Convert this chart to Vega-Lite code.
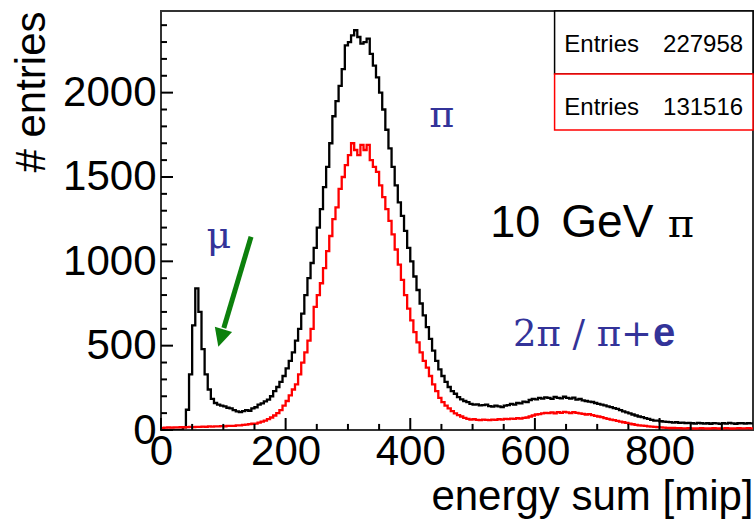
{
  "$schema": "https://vega.github.io/schema/vega-lite/v6.json",
  "width": 592,
  "height": 419,
  "autosize": {"type": "none"},
  "padding": {"left": 161, "top": 11, "right": 2, "bottom": 93},
  "background": "white",
  "config": {
    "view": {"stroke": "#333", "strokeWidth": 2},
    "font": "Liberation Sans"
  },
  "datasets": {
    "pion": [
      {"energy": 0, "entries": 0}, {"energy": 5, "entries": 0}, {"energy": 10, "entries": 0}, {"energy": 15, "entries": 0},
      {"energy": 20, "entries": 0}, {"energy": 25, "entries": 0}, {"energy": 30, "entries": 0}, {"energy": 35, "entries": 15},
      {"energy": 40, "entries": 120}, {"energy": 45, "entries": 330}, {"energy": 50, "entries": 620}, {"energy": 55, "entries": 840},
      {"energy": 60, "entries": 700}, {"energy": 65, "entries": 480}, {"energy": 70, "entries": 330}, {"energy": 75, "entries": 240},
      {"energy": 80, "entries": 185}, {"energy": 85, "entries": 160}, {"energy": 90, "entries": 150}, {"energy": 95, "entries": 145},
      {"energy": 100, "entries": 140}, {"energy": 105, "entries": 132}, {"energy": 110, "entries": 128}, {"energy": 115, "entries": 118},
      {"energy": 120, "entries": 110}, {"energy": 125, "entries": 106}, {"energy": 130, "entries": 112}, {"energy": 135, "entries": 118},
      {"energy": 140, "entries": 114}, {"energy": 145, "entries": 128}, {"energy": 150, "entries": 135}, {"energy": 155, "entries": 150},
      {"energy": 160, "entries": 158}, {"energy": 165, "entries": 170}, {"energy": 170, "entries": 180}, {"energy": 175, "entries": 200},
      {"energy": 180, "entries": 230}, {"energy": 185, "entries": 255}, {"energy": 190, "entries": 285}, {"energy": 195, "entries": 320},
      {"energy": 200, "entries": 365}, {"energy": 205, "entries": 410}, {"energy": 210, "entries": 460}, {"energy": 215, "entries": 530},
      {"energy": 220, "entries": 600}, {"energy": 225, "entries": 690}, {"energy": 230, "entries": 800}, {"energy": 235, "entries": 900},
      {"energy": 240, "entries": 990}, {"energy": 245, "entries": 1080}, {"energy": 250, "entries": 1200}, {"energy": 255, "entries": 1310},
      {"energy": 260, "entries": 1440}, {"energy": 265, "entries": 1560}, {"energy": 270, "entries": 1700}, {"energy": 275, "entries": 1860},
      {"energy": 280, "entries": 1950}, {"energy": 285, "entries": 2040}, {"energy": 290, "entries": 2140}, {"energy": 295, "entries": 2280},
      {"energy": 300, "entries": 2300}, {"energy": 305, "entries": 2340}, {"energy": 310, "entries": 2370}, {"energy": 315, "entries": 2330},
      {"energy": 320, "entries": 2290}, {"energy": 325, "entries": 2300}, {"energy": 330, "entries": 2320}, {"energy": 335, "entries": 2230},
      {"energy": 340, "entries": 2160}, {"energy": 345, "entries": 2090}, {"energy": 350, "entries": 2000}, {"energy": 355, "entries": 1900},
      {"energy": 360, "entries": 1780}, {"energy": 365, "entries": 1670}, {"energy": 370, "entries": 1560}, {"energy": 375, "entries": 1450},
      {"energy": 380, "entries": 1350}, {"energy": 385, "entries": 1270}, {"energy": 390, "entries": 1180}, {"energy": 395, "entries": 1080},
      {"energy": 400, "entries": 1000}, {"energy": 405, "entries": 910}, {"energy": 410, "entries": 830}, {"energy": 415, "entries": 750},
      {"energy": 420, "entries": 680}, {"energy": 425, "entries": 610}, {"energy": 430, "entries": 540}, {"energy": 435, "entries": 470},
      {"energy": 440, "entries": 410}, {"energy": 445, "entries": 360}, {"energy": 450, "entries": 320}, {"energy": 455, "entries": 285},
      {"energy": 460, "entries": 255}, {"energy": 465, "entries": 230}, {"energy": 470, "entries": 215}, {"energy": 475, "entries": 195},
      {"energy": 480, "entries": 182}, {"energy": 485, "entries": 172}, {"energy": 490, "entries": 165}, {"energy": 495, "entries": 155},
      {"energy": 500, "entries": 150}, {"energy": 505, "entries": 152}, {"energy": 510, "entries": 146}, {"energy": 515, "entries": 148},
      {"energy": 520, "entries": 150}, {"energy": 525, "entries": 142}, {"energy": 530, "entries": 138}, {"energy": 535, "entries": 145},
      {"energy": 540, "entries": 140}, {"energy": 545, "entries": 136}, {"energy": 550, "entries": 145}, {"energy": 555, "entries": 148},
      {"energy": 560, "entries": 155}, {"energy": 565, "entries": 150}, {"energy": 570, "entries": 160}, {"energy": 575, "entries": 158},
      {"energy": 580, "entries": 168}, {"energy": 585, "entries": 165}, {"energy": 590, "entries": 178}, {"energy": 595, "entries": 185},
      {"energy": 600, "entries": 182}, {"energy": 605, "entries": 190}, {"energy": 610, "entries": 186}, {"energy": 615, "entries": 194},
      {"energy": 620, "entries": 190}, {"energy": 625, "entries": 184}, {"energy": 630, "entries": 196}, {"energy": 635, "entries": 190},
      {"energy": 640, "entries": 188}, {"energy": 645, "entries": 197}, {"energy": 650, "entries": 190}, {"energy": 655, "entries": 186},
      {"energy": 660, "entries": 192}, {"energy": 665, "entries": 180}, {"energy": 670, "entries": 185}, {"energy": 675, "entries": 176},
      {"energy": 680, "entries": 172}, {"energy": 685, "entries": 168}, {"energy": 690, "entries": 166}, {"energy": 695, "entries": 160},
      {"energy": 700, "entries": 155}, {"energy": 705, "entries": 150}, {"energy": 710, "entries": 146}, {"energy": 715, "entries": 140},
      {"energy": 720, "entries": 136}, {"energy": 725, "entries": 130}, {"energy": 730, "entries": 125}, {"energy": 735, "entries": 118},
      {"energy": 740, "entries": 110}, {"energy": 745, "entries": 104}, {"energy": 750, "entries": 98}, {"energy": 755, "entries": 92},
      {"energy": 760, "entries": 86}, {"energy": 765, "entries": 80}, {"energy": 770, "entries": 76}, {"energy": 775, "entries": 70},
      {"energy": 780, "entries": 66}, {"energy": 785, "entries": 60}, {"energy": 790, "entries": 56}, {"energy": 795, "entries": 55},
      {"energy": 800, "entries": 52}, {"energy": 805, "entries": 50}, {"energy": 810, "entries": 48}, {"energy": 815, "entries": 47},
      {"energy": 820, "entries": 44}, {"energy": 825, "entries": 46}, {"energy": 830, "entries": 42}, {"energy": 835, "entries": 44},
      {"energy": 840, "entries": 41}, {"energy": 845, "entries": 42}, {"energy": 850, "entries": 40}, {"energy": 855, "entries": 38},
      {"energy": 860, "entries": 42}, {"energy": 865, "entries": 40}, {"energy": 870, "entries": 38}, {"energy": 875, "entries": 40},
      {"energy": 880, "entries": 37}, {"energy": 885, "entries": 41}, {"energy": 890, "entries": 39}, {"energy": 895, "entries": 36},
      {"energy": 900, "entries": 40}, {"energy": 905, "entries": 38}, {"energy": 910, "entries": 42}, {"energy": 915, "entries": 39},
      {"energy": 920, "entries": 37}, {"energy": 925, "entries": 40}, {"energy": 930, "entries": 41}, {"energy": 935, "entries": 38},
      {"energy": 940, "entries": 40}, {"energy": 945, "entries": 39}, {"energy": 950, "entries": 39}
    ],
    "pionPair": [
      {"energy": 0, "entries": 12}, {"energy": 5, "entries": 14}, {"energy": 10, "entries": 15}, {"energy": 15, "entries": 14},
      {"energy": 20, "entries": 16}, {"energy": 25, "entries": 15}, {"energy": 30, "entries": 17}, {"energy": 35, "entries": 16},
      {"energy": 40, "entries": 17}, {"energy": 45, "entries": 18}, {"energy": 50, "entries": 17}, {"energy": 55, "entries": 19},
      {"energy": 60, "entries": 18}, {"energy": 65, "entries": 20}, {"energy": 70, "entries": 19}, {"energy": 75, "entries": 21},
      {"energy": 80, "entries": 20}, {"energy": 85, "entries": 22}, {"energy": 90, "entries": 21}, {"energy": 95, "entries": 23},
      {"energy": 100, "entries": 22}, {"energy": 105, "entries": 24}, {"energy": 110, "entries": 25}, {"energy": 115, "entries": 24},
      {"energy": 120, "entries": 27}, {"energy": 125, "entries": 28}, {"energy": 130, "entries": 30}, {"energy": 135, "entries": 32},
      {"energy": 140, "entries": 35}, {"energy": 145, "entries": 37}, {"energy": 150, "entries": 38}, {"energy": 155, "entries": 44},
      {"energy": 160, "entries": 50}, {"energy": 165, "entries": 56}, {"energy": 170, "entries": 64}, {"energy": 175, "entries": 74},
      {"energy": 180, "entries": 86}, {"energy": 185, "entries": 100}, {"energy": 190, "entries": 118}, {"energy": 195, "entries": 145},
      {"energy": 200, "entries": 172}, {"energy": 205, "entries": 205}, {"energy": 210, "entries": 240}, {"energy": 215, "entries": 270},
      {"energy": 220, "entries": 330}, {"energy": 225, "entries": 400}, {"energy": 230, "entries": 460}, {"energy": 235, "entries": 530},
      {"energy": 240, "entries": 600}, {"energy": 245, "entries": 730}, {"energy": 250, "entries": 800}, {"energy": 255, "entries": 870},
      {"energy": 260, "entries": 960}, {"energy": 265, "entries": 1060}, {"energy": 270, "entries": 1150}, {"energy": 275, "entries": 1250},
      {"energy": 280, "entries": 1320}, {"energy": 285, "entries": 1430}, {"energy": 290, "entries": 1500}, {"energy": 295, "entries": 1570},
      {"energy": 300, "entries": 1630}, {"energy": 305, "entries": 1700}, {"energy": 310, "entries": 1660}, {"energy": 315, "entries": 1630},
      {"energy": 320, "entries": 1690}, {"energy": 325, "entries": 1660}, {"energy": 330, "entries": 1690}, {"energy": 335, "entries": 1600},
      {"energy": 340, "entries": 1560}, {"energy": 345, "entries": 1530}, {"energy": 350, "entries": 1450}, {"energy": 355, "entries": 1380},
      {"energy": 360, "entries": 1310}, {"energy": 365, "entries": 1240}, {"energy": 370, "entries": 1160}, {"energy": 375, "entries": 1070},
      {"energy": 380, "entries": 980}, {"energy": 385, "entries": 890}, {"energy": 390, "entries": 800}, {"energy": 395, "entries": 720},
      {"energy": 400, "entries": 650}, {"energy": 405, "entries": 580}, {"energy": 410, "entries": 520}, {"energy": 415, "entries": 460},
      {"energy": 420, "entries": 410}, {"energy": 425, "entries": 370}, {"energy": 430, "entries": 320}, {"energy": 435, "entries": 270},
      {"energy": 440, "entries": 230}, {"energy": 445, "entries": 190}, {"energy": 450, "entries": 165}, {"energy": 455, "entries": 145},
      {"energy": 460, "entries": 128}, {"energy": 465, "entries": 112}, {"energy": 470, "entries": 98}, {"energy": 475, "entries": 88},
      {"energy": 480, "entries": 80}, {"energy": 485, "entries": 72}, {"energy": 490, "entries": 66}, {"energy": 495, "entries": 62},
      {"energy": 500, "entries": 64}, {"energy": 505, "entries": 60}, {"energy": 510, "entries": 58}, {"energy": 515, "entries": 62},
      {"energy": 520, "entries": 60}, {"energy": 525, "entries": 58}, {"energy": 530, "entries": 62}, {"energy": 535, "entries": 60},
      {"energy": 540, "entries": 64}, {"energy": 545, "entries": 62}, {"energy": 550, "entries": 66}, {"energy": 555, "entries": 64},
      {"energy": 560, "entries": 68}, {"energy": 565, "entries": 66}, {"energy": 570, "entries": 70}, {"energy": 575, "entries": 68},
      {"energy": 580, "entries": 72}, {"energy": 585, "entries": 74}, {"energy": 590, "entries": 80}, {"energy": 595, "entries": 86},
      {"energy": 600, "entries": 92}, {"energy": 605, "entries": 94}, {"energy": 610, "entries": 98}, {"energy": 615, "entries": 102},
      {"energy": 620, "entries": 100}, {"energy": 625, "entries": 104}, {"energy": 630, "entries": 98}, {"energy": 635, "entries": 106},
      {"energy": 640, "entries": 102}, {"energy": 645, "entries": 108}, {"energy": 650, "entries": 104}, {"energy": 655, "entries": 100},
      {"energy": 660, "entries": 106}, {"energy": 665, "entries": 102}, {"energy": 670, "entries": 98}, {"energy": 675, "entries": 96},
      {"energy": 680, "entries": 92}, {"energy": 685, "entries": 94}, {"energy": 690, "entries": 88}, {"energy": 695, "entries": 84},
      {"energy": 700, "entries": 80}, {"energy": 705, "entries": 76}, {"energy": 710, "entries": 70}, {"energy": 715, "entries": 66},
      {"energy": 720, "entries": 62}, {"energy": 725, "entries": 58}, {"energy": 730, "entries": 54}, {"energy": 735, "entries": 50},
      {"energy": 740, "entries": 46}, {"energy": 745, "entries": 42}, {"energy": 750, "entries": 38}, {"energy": 755, "entries": 34},
      {"energy": 760, "entries": 30}, {"energy": 765, "entries": 28}, {"energy": 770, "entries": 26}, {"energy": 775, "entries": 24},
      {"energy": 780, "entries": 22}, {"energy": 785, "entries": 20}, {"energy": 790, "entries": 18}, {"energy": 795, "entries": 17},
      {"energy": 800, "entries": 15}, {"energy": 805, "entries": 14}, {"energy": 810, "entries": 13}, {"energy": 815, "entries": 12},
      {"energy": 820, "entries": 12}, {"energy": 825, "entries": 11}, {"energy": 830, "entries": 11}, {"energy": 835, "entries": 10},
      {"energy": 840, "entries": 10}, {"energy": 845, "entries": 11}, {"energy": 850, "entries": 10}, {"energy": 855, "entries": 9},
      {"energy": 860, "entries": 10}, {"energy": 865, "entries": 11}, {"energy": 870, "entries": 10}, {"energy": 875, "entries": 9},
      {"energy": 880, "entries": 10}, {"energy": 885, "entries": 11}, {"energy": 890, "entries": 10}, {"energy": 895, "entries": 9},
      {"energy": 900, "entries": 10}, {"energy": 905, "entries": 11}, {"energy": 910, "entries": 10}, {"energy": 915, "entries": 9},
      {"energy": 920, "entries": 10}, {"energy": 925, "entries": 11}, {"energy": 930, "entries": 10}, {"energy": 935, "entries": 10},
      {"energy": 940, "entries": 11}, {"energy": 945, "entries": 10}, {"energy": 950, "entries": 10}
    ],
    "xTicks": [
      {"value": 0, "major": true}, {"value": 50, "major": false}, {"value": 100, "major": false}, {"value": 150, "major": false},
      {"value": 200, "major": true}, {"value": 250, "major": false}, {"value": 300, "major": false}, {"value": 350, "major": false},
      {"value": 400, "major": true}, {"value": 450, "major": false}, {"value": 500, "major": false}, {"value": 550, "major": false},
      {"value": 600, "major": true}, {"value": 650, "major": false}, {"value": 700, "major": false}, {"value": 750, "major": false},
      {"value": 800, "major": true}, {"value": 850, "major": false}, {"value": 900, "major": false}
    ],
    "yTicks": [
      {"value": 0, "major": true}, {"value": 100, "major": false}, {"value": 200, "major": false}, {"value": 300, "major": false},
      {"value": 400, "major": false}, {"value": 500, "major": true}, {"value": 600, "major": false}, {"value": 700, "major": false},
      {"value": 800, "major": false}, {"value": 900, "major": false}, {"value": 1000, "major": true}, {"value": 1100, "major": false},
      {"value": 1200, "major": false}, {"value": 1300, "major": false}, {"value": 1400, "major": false}, {"value": 1500, "major": true},
      {"value": 1600, "major": false}, {"value": 1700, "major": false}, {"value": 1800, "major": false}, {"value": 1900, "major": false},
      {"value": 2000, "major": true}, {"value": 2100, "major": false}, {"value": 2200, "major": false}, {"value": 2300, "major": false},
      {"value": 2400, "major": false}
    ]
  },
  "layer": [
    {
      "data": {"name": "pion"},
      "mark": {"type": "line", "interpolate": "step-after", "color": "#000000", "strokeWidth": 2.3, "clip": true},
      "encoding": {
        "x": {
          "field": "energy", "type": "quantitative",
          "scale": {"domain": [0, 950], "nice": false, "zero": false},
          "axis": {
            "orient": "bottom", "values": [0, 200, 400, 600, 800], "format": "d",
            "grid": false, "domain": false, "ticks": false,
            "labelFont": "Liberation Sans", "labelFontSize": 42, "labelColor": "#000",
            "labelPadding": 1, "labelFlush": false, "labelOverlap": false,
            "title": "energy sum [mip]", "titleFont": "Liberation Sans", "titleFontSize": 42,
            "titleFontWeight": "normal", "titleColor": "#000", "titleAnchor": "end", "titlePadding": 4
          }
        },
        "y": {
          "field": "entries", "type": "quantitative",
          "scale": {"domain": [0, 2484], "nice": false, "zero": true},
          "axis": {
            "orient": "left", "values": [0, 500, 1000, 1500, 2000], "format": "d",
            "grid": false, "domain": false, "ticks": false,
            "labelFont": "Liberation Sans", "labelFontSize": 42, "labelColor": "#000",
            "labelPadding": 5, "labelFlush": false, "labelOverlap": false,
            "title": "# entries", "titleFont": "Liberation Sans", "titleFontSize": 42,
            "titleFontWeight": "normal", "titleColor": "#000", "titleAnchor": "end", "titlePadding": 9
          }
        }
      }
    },
    {
      "data": {"name": "pionPair"},
      "mark": {"type": "line", "interpolate": "step-after", "color": "#ff0000", "strokeWidth": 2.3, "clip": true},
      "encoding": {
        "x": {"field": "energy", "type": "quantitative"},
        "y": {"field": "entries", "type": "quantitative"}
      }
    },
    {
      "data": {"name": "xTicks"},
      "transform": [{"filter": "datum.major"}],
      "mark": {"type": "rule", "color": "#000000", "strokeWidth": 2},
      "encoding": {
        "x": {"field": "value", "type": "quantitative"},
        "y": {"datum": 0, "type": "quantitative"},
        "y2": {"datum": 71}
      }
    },
    {
      "data": {"name": "xTicks"},
      "transform": [{"filter": "!datum.major"}],
      "mark": {"type": "rule", "color": "#000000", "strokeWidth": 2},
      "encoding": {
        "x": {"field": "value", "type": "quantitative"},
        "y": {"datum": 0, "type": "quantitative"},
        "y2": {"datum": 36}
      }
    },
    {
      "data": {"name": "yTicks"},
      "transform": [{"filter": "datum.major"}],
      "mark": {"type": "rule", "color": "#000000", "strokeWidth": 2},
      "encoding": {
        "y": {"field": "value", "type": "quantitative"},
        "x": {"datum": 0, "type": "quantitative"},
        "x2": {"datum": 19.3}
      }
    },
    {
      "data": {"name": "yTicks"},
      "transform": [{"filter": "!datum.major"}],
      "mark": {"type": "rule", "color": "#000000", "strokeWidth": 2},
      "encoding": {
        "y": {"field": "value", "type": "quantitative"},
        "x": {"datum": 0, "type": "quantitative"},
        "x2": {"datum": 9.6}
      }
    },
    {
      "data": {"values": [{}]},
      "mark": {"type": "rule", "color": "#0c800c", "strokeWidth": 5},
      "encoding": {
        "x": {"datum": 144.5, "type": "quantitative"},
        "y": {"datum": 1146, "type": "quantitative"},
        "x2": {"datum": 100.8},
        "y2": {"datum": 605}
      }
    },
    {
      "data": {"values": [{}]},
      "mark": {"type": "point", "shape": "M0,1L-1,-1L1,-1Z", "filled": true, "color": "#0c800c", "opacity": 1, "size": 324, "angle": 16.6},
      "encoding": {
        "x": {"datum": 96.1, "type": "quantitative"},
        "y": {"datum": 545, "type": "quantitative"}
      }
    },
    {
      "data": {"values": [{}]},
      "mark": {"type": "text", "text": "μ", "font": "DejaVu Serif", "fontSize": 38, "color": "#333399", "align": "center", "baseline": "alphabetic"},
      "encoding": {
        "x": {"datum": 92.9, "type": "quantitative"},
        "y": {"datum": 1077, "type": "quantitative"}
      }
    },
    {
      "data": {"values": [{}]},
      "mark": {"type": "text", "text": "π", "font": "DejaVu Serif", "fontSize": 38, "color": "#333399", "align": "center", "baseline": "alphabetic"},
      "encoding": {
        "x": {"datum": 450.5, "type": "quantitative"},
        "y": {"datum": 1798, "type": "quantitative"}
      }
    },
    {
      "data": {"values": [{}]},
      "mark": {"type": "text", "text": "10", "font": "Liberation Sans", "fontSize": 45, "color": "#000000", "align": "left", "baseline": "alphabetic"},
      "encoding": {
        "x": {"datum": 528.3, "type": "quantitative"},
        "y": {"datum": 1146, "type": "quantitative"}
      }
    },
    {
      "data": {"values": [{}]},
      "mark": {"type": "text", "text": "GeV", "font": "Liberation Sans", "fontSize": 46, "color": "#000000", "align": "left", "baseline": "alphabetic"},
      "encoding": {
        "x": {"datum": 642.4, "type": "quantitative"},
        "y": {"datum": 1146, "type": "quantitative"}
      }
    },
    {
      "data": {"values": [{}]},
      "mark": {"type": "text", "text": "π", "font": "DejaVu Serif", "fontSize": 40, "color": "#000000", "align": "center", "baseline": "alphabetic"},
      "encoding": {
        "x": {"datum": 834.3, "type": "quantitative"},
        "y": {"datum": 1146, "type": "quantitative"}
      }
    },
    {
      "data": {"values": [{}]},
      "mark": {"type": "text", "text": "2π / π+", "font": "DejaVu Serif", "fontSize": 37, "color": "#333399", "align": "right", "baseline": "alphabetic"},
      "encoding": {
        "x": {"datum": 788, "type": "quantitative"},
        "y": {"datum": 498, "type": "quantitative"}
      }
    },
    {
      "data": {"values": [{}]},
      "mark": {"type": "text", "text": "e", "font": "Liberation Sans", "fontSize": 40, "fontWeight": "bold", "color": "#333399", "align": "left", "baseline": "alphabetic"},
      "encoding": {
        "x": {"datum": 789.6, "type": "quantitative"},
        "y": {"datum": 498, "type": "quantitative"}
      }
    },
    {
      "data": {"values": [{}]},
      "mark": {"type": "rect", "fill": "white", "stroke": "#000000", "strokeWidth": 1.5},
      "encoding": {
        "x": {"datum": 631.6, "type": "quantitative"},
        "x2": {"datum": 950},
        "y": {"datum": 2484, "type": "quantitative"},
        "y2": {"datum": 2111}
      }
    },
    {
      "data": {"values": [{}]},
      "mark": {"type": "rect", "fill": "white", "stroke": "#ff0000", "strokeWidth": 1.5},
      "encoding": {
        "x": {"datum": 631.6, "type": "quantitative"},
        "x2": {"datum": 950},
        "y": {"datum": 2111, "type": "quantitative"},
        "y2": {"datum": 1779}
      }
    },
    {
      "data": {"values": [{}]},
      "mark": {"type": "text", "text": "Entries", "font": "Liberation Sans", "fontSize": 24, "color": "#000000", "align": "left", "baseline": "alphabetic"},
      "encoding": {
        "x": {"datum": 647.2, "type": "quantitative"},
        "y": {"datum": 2243, "type": "quantitative"}
      }
    },
    {
      "data": {"values": [{}]},
      "mark": {"type": "text", "text": "227958", "font": "Liberation Sans", "fontSize": 24, "color": "#000000", "align": "right", "baseline": "alphabetic"},
      "encoding": {
        "x": {"datum": 934.2, "type": "quantitative"},
        "y": {"datum": 2243, "type": "quantitative"}
      }
    },
    {
      "data": {"values": [{}]},
      "mark": {"type": "text", "text": "Entries", "font": "Liberation Sans", "fontSize": 24, "color": "#000000", "align": "left", "baseline": "alphabetic"},
      "encoding": {
        "x": {"datum": 647.2, "type": "quantitative"},
        "y": {"datum": 1868, "type": "quantitative"}
      }
    },
    {
      "data": {"values": [{}]},
      "mark": {"type": "text", "text": "131516", "font": "Liberation Sans", "fontSize": 24, "color": "#000000", "align": "right", "baseline": "alphabetic"},
      "encoding": {
        "x": {"datum": 934.2, "type": "quantitative"},
        "y": {"datum": 1868, "type": "quantitative"}
      }
    }
  ]
}
